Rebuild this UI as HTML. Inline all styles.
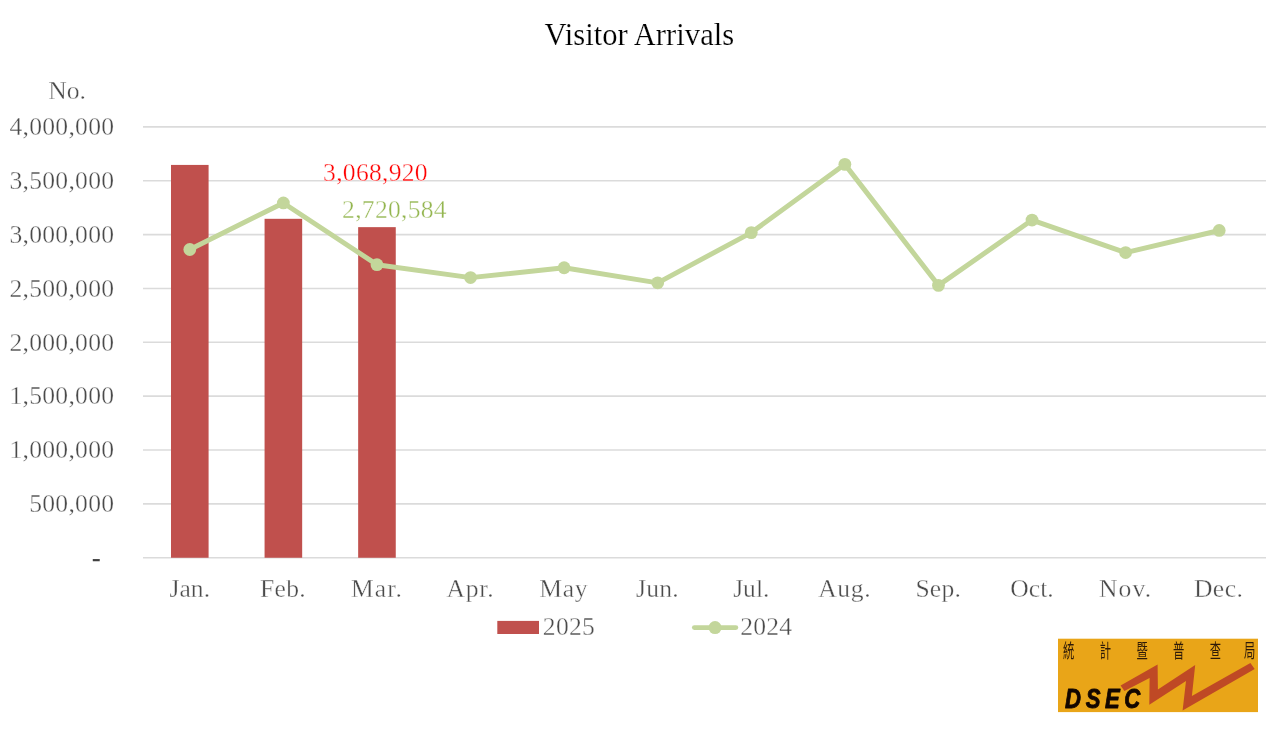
<!DOCTYPE html>
<html lang="en"><head><meta charset="utf-8"><title>Visitor Arrivals</title>
<style>
html,body{margin:0;padding:0;background:#fff;}
body{width:1280px;height:744px;overflow:hidden;}
svg{display:block;}
text{font-family:"Liberation Serif","Noto Serif CJK SC",serif;}
.ax{font-size:25.6px;fill:#4a4a4a;stroke:#fff;stroke-width:0.36px;}
.cjk{font-family:"Liberation Sans","Noto Sans CJK TC",sans-serif;}
</style></head><body>
<svg width="1280" height="744" viewBox="0 0 1280 744">
<rect width="1280" height="744" fill="#fff"/>

<line x1="143.0" x2="1266.0" y1="557.75" y2="557.75" stroke="#dbdbdb" stroke-width="1.6"/>
<line x1="143.0" x2="1266.0" y1="503.89" y2="503.89" stroke="#dbdbdb" stroke-width="1.6"/>
<line x1="143.0" x2="1266.0" y1="450.02" y2="450.02" stroke="#dbdbdb" stroke-width="1.6"/>
<line x1="143.0" x2="1266.0" y1="396.16" y2="396.16" stroke="#dbdbdb" stroke-width="1.6"/>
<line x1="143.0" x2="1266.0" y1="342.30" y2="342.30" stroke="#dbdbdb" stroke-width="1.6"/>
<line x1="143.0" x2="1266.0" y1="288.44" y2="288.44" stroke="#dbdbdb" stroke-width="1.6"/>
<line x1="143.0" x2="1266.0" y1="234.58" y2="234.58" stroke="#dbdbdb" stroke-width="1.6"/>
<line x1="143.0" x2="1266.0" y1="180.71" y2="180.71" stroke="#dbdbdb" stroke-width="1.6"/>
<line x1="143.0" x2="1266.0" y1="126.85" y2="126.85" stroke="#dbdbdb" stroke-width="1.6"/>
<rect x="170.99" y="164.92" width="37.6" height="392.83" fill="#c0504d"/>
<rect x="264.57" y="218.81" width="37.6" height="338.94" fill="#c0504d"/>
<rect x="358.16" y="227.15" width="37.6" height="330.60" fill="#c0504d"/>
<polyline points="189.79,249.48 283.38,202.95 376.96,264.68 470.54,277.59 564.12,267.73 657.71,282.82 751.29,232.62 844.88,164.37 938.46,285.35 1032.04,220.07 1125.62,252.56 1219.21,230.47" fill="none" stroke="#c3d69b" stroke-width="4.95" stroke-linejoin="round" stroke-linecap="round"/>
<circle cx="189.79" cy="249.48" r="6.4" fill="#c3d69b"/>
<circle cx="283.38" cy="202.95" r="6.4" fill="#c3d69b"/>
<circle cx="376.96" cy="264.68" r="6.4" fill="#c3d69b"/>
<circle cx="470.54" cy="277.59" r="6.4" fill="#c3d69b"/>
<circle cx="564.12" cy="267.73" r="6.4" fill="#c3d69b"/>
<circle cx="657.71" cy="282.82" r="6.4" fill="#c3d69b"/>
<circle cx="751.29" cy="232.62" r="6.4" fill="#c3d69b"/>
<circle cx="844.88" cy="164.37" r="6.4" fill="#c3d69b"/>
<circle cx="938.46" cy="285.35" r="6.4" fill="#c3d69b"/>
<circle cx="1032.04" cy="220.07" r="6.4" fill="#c3d69b"/>
<circle cx="1125.62" cy="252.56" r="6.4" fill="#c3d69b"/>
<circle cx="1219.21" cy="230.47" r="6.4" fill="#c3d69b"/>
<text x="639.3" y="45.3" text-anchor="middle" font-size="30.6" letter-spacing="0.03" fill="#000" stroke="#fff" stroke-width="0.18">Visitor Arrivals</text>
<text class="ax" x="67" y="98.5" text-anchor="middle">No.</text>
<text class="ax" x="100.6" y="565.75" text-anchor="end" style="fill:#404040;stroke:#404040;stroke-width:0.25px">-</text>
<text class="ax" x="114.3" y="512.09" text-anchor="end" letter-spacing="0.27">500,000</text>
<text class="ax" x="114.3" y="458.22" text-anchor="end" letter-spacing="0.27">1,000,000</text>
<text class="ax" x="114.3" y="404.36" text-anchor="end" letter-spacing="0.27">1,500,000</text>
<text class="ax" x="114.3" y="350.50" text-anchor="end" letter-spacing="0.27">2,000,000</text>
<text class="ax" x="114.3" y="296.64" text-anchor="end" letter-spacing="0.27">2,500,000</text>
<text class="ax" x="114.3" y="242.78" text-anchor="end" letter-spacing="0.27">3,000,000</text>
<text class="ax" x="114.3" y="188.91" text-anchor="end" letter-spacing="0.27">3,500,000</text>
<text class="ax" x="114.3" y="135.05" text-anchor="end" letter-spacing="0.27">4,000,000</text>
<text class="ax" x="189.79" y="596.7" text-anchor="middle" letter-spacing="0.00">Jan.</text>
<text class="ax" x="283.08" y="596.7" text-anchor="middle" letter-spacing="0.30">Feb.</text>
<text class="ax" x="376.96" y="596.7" text-anchor="middle" letter-spacing="1.10">Mar.</text>
<text class="ax" x="470.39" y="596.7" text-anchor="middle" letter-spacing="0.80">Apr.</text>
<text class="ax" x="563.75" y="596.7" text-anchor="middle" letter-spacing="0.75">May</text>
<text class="ax" x="657.49" y="596.7" text-anchor="middle" letter-spacing="0.22">Jun.</text>
<text class="ax" x="751.29" y="596.7" text-anchor="middle" letter-spacing="0.00">Jul.</text>
<text class="ax" x="844.81" y="596.7" text-anchor="middle" letter-spacing="0.72">Aug.</text>
<text class="ax" x="938.24" y="596.7" text-anchor="middle" letter-spacing="0.22">Sep.</text>
<text class="ax" x="1032.04" y="596.7" text-anchor="middle" letter-spacing="0.00">Oct.</text>
<text class="ax" x="1125.62" y="596.7" text-anchor="middle" letter-spacing="1.10">Nov.</text>
<text class="ax" x="1218.71" y="596.7" text-anchor="middle" letter-spacing="0.50">Dec.</text>
<text x="375.5" y="181" text-anchor="middle" letter-spacing="0.27" font-size="25.6" fill="#ff0000" stroke="#fff" stroke-width="0.36">3,068,920</text>
<text x="394.5" y="217.5" text-anchor="middle" letter-spacing="0.27" font-size="25.6" fill="#94b650" stroke="#fff" stroke-width="0.36">2,720,584</text>
<rect x="497.3" y="620.9" width="41.7" height="13.1" fill="#c0504d"/>
<text class="ax" x="542.8" y="635.2" letter-spacing="0.3">2025</text>
<line x1="694.3" x2="735.9" y1="627.6" y2="627.6" stroke="#c3d69b" stroke-width="4.7" stroke-linecap="round"/>
<circle cx="715.05" cy="627.6" r="6.5" fill="#c3d69b"/>
<text class="ax" x="740.2" y="635.2" letter-spacing="0.2">2024</text>
<g id="logo">
<rect x="1058" y="638.7" width="200" height="73.4" fill="#e9a518"/>
<polygon points="1120.6,685.5 1157.6,664.4 1157.9,689.6 1195.2,665.1 1191.9,696.0 1250.4,663.0 1254.7,669.1 1182.6,710.4 1186.0,681.0 1149.3,704.7 1149.6,678.1 1124.4,691.1" fill="#bf4925"/>
<text class="cjk" transform="translate(1063.0,658.2) scale(0.58,1)" font-size="19.5" letter-spacing="43.8" fill="#2e1a08">統計暨普查<tspan dx="-4.5">局</tspan></text>
<text transform="translate(1065.1,707.6) scale(0.82,1)" style="font-family:'Liberation Sans',sans-serif;font-weight:bold;font-style:italic;font-size:27px;letter-spacing:5.6px" fill="#120600" stroke="#120600" stroke-width="0.9" stroke-linejoin="round">DSEC</text>
</g>

</svg></body></html>
